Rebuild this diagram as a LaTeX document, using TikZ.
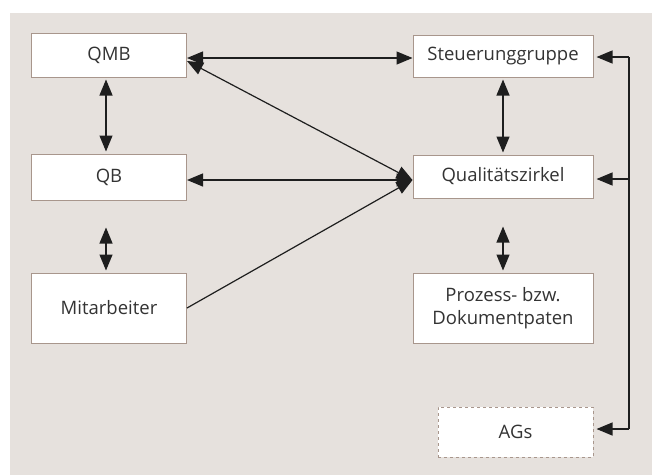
\documentclass[tikz,border=0pt]{standalone}
\usepackage{fontspec}
\setmainfont{Open Sans}
\usepackage{xcolor}
\usepackage{tikz}
\usetikzlibrary{arrows.meta,positioning}
\definecolor{bgfill}{HTML}{E6E1DD}
\definecolor{boxline}{HTML}{A8968C}
\definecolor{inktext}{HTML}{333333}
\definecolor{inkline}{HTML}{1E1E1E}
\tikzset{>={Triangle[length=16pt,width=13pt]}}
\tikzset{
  unit/.style={draw=boxline,fill=white,line width=1pt,text=inktext,
    font=\fontsize{18.5}{23}\selectfont,align=center,inner sep=0pt},
  link/.style={draw=inkline,line width=1.2pt}
}

\begin{document}
\begin{tikzpicture}[x=1pt,y=-1pt]
      \useasboundingbox (0,0) rectangle (652,475);
      \fill[bgfill] (10,13) rectangle (652,475);
      \node[unit,minimum width=155pt,minimum height=44pt] (qmb) at (109,55) {QMB};
      \node[unit,minimum width=155pt,minimum height=46pt] (qb) at (109,177) {QB};
      \node[unit,minimum width=155pt,minimum height=70pt] (mit) at (109,308) {Mitarbeiter};
      \node[unit,minimum width=180pt,minimum height=42pt] (steu) at (503,56) {Steuerunggruppe};
      \node[unit,minimum width=180pt,minimum height=43pt] (qz) at (503,176.5) {Qualitätszirkel};
      \node[unit,minimum width=180pt,minimum height=70pt] (pate) at (503,308) {Prozess- bzw.\\Dokumentpaten};
      \node[unit,dashed,minimum width=155pt,minimum height=50pt] (ags) at (515.5,432) {AGs};
      \coordinate (hub) at ([yshift=-3.5pt]qz.west);
      \coordinate (b1) at (629,57);
      \coordinate (b2) at (629,179);
      \coordinate (b3) at (629,429);
      \path[link,<->] ([yshift=-3pt]qmb.east) -- ([yshift=-3pt]qmb.east -| steu.west);
      \path[link,<->] ([yshift=-6pt]qmb.east) -- (hub);
      \path[link,<->] ([yshift=-3pt]qb.east) -- (hub);
      \path[link,->] (mit.east) -- (hub);
      \path[link,<->,shorten <=2pt,shorten >=2pt] ([xshift=-3pt]qmb.south) -- ([xshift=-3pt]qb.north);
      \path[link,<->,shorten <=27pt,shorten >=2pt] ([xshift=-3pt]qb.south) -- ([xshift=-3pt]mit.north);
      \path[link,<->,shorten <=2pt,shorten >=2pt] (steu.south) -- (qz.north);
      \path[link,<->,shorten <=28pt,shorten >=2pt] (qz.south) -- (pate.north);
      \path[link] (b1) -- (b3);
      \path[link,->] (b1) -- ([xshift=3pt]b1 -| steu.east);
      \path[link,->] (b2) -- ([xshift=3pt]b2 -| qz.east);
      \path[link,->] (b3) -- ([xshift=3pt]b3 -| ags.east);
    \end{tikzpicture}
\end{document}
